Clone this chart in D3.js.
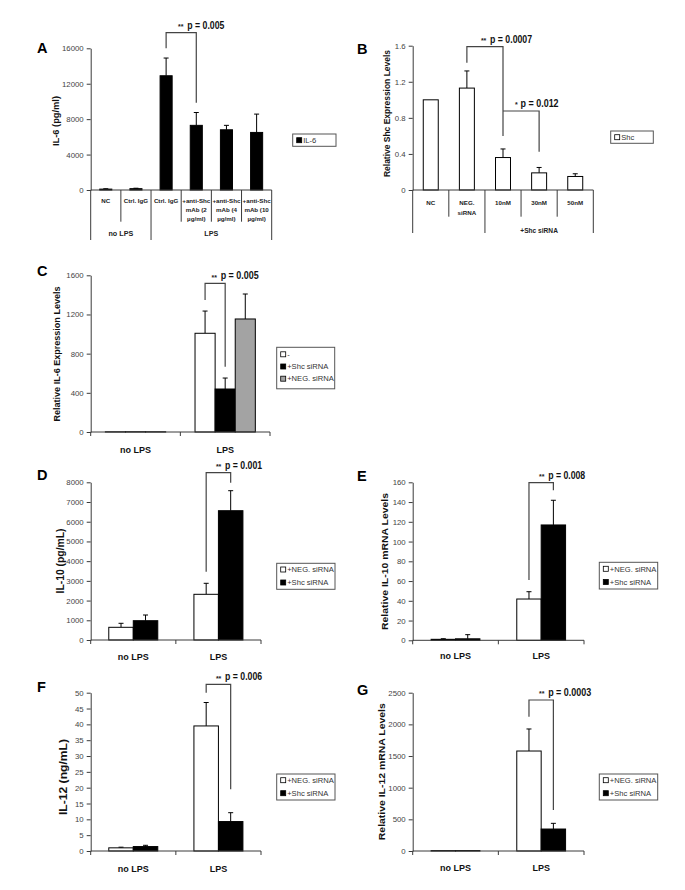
<!DOCTYPE html>
<html><head><meta charset="utf-8">
<script src="https://cdn.jsdelivr.net/npm/d3@7"></script>
<style>body{margin:0;background:#fff} svg{display:block}</style>
</head><body><svg id="c" width="685" height="890"></svg>
<script>
// ---------------- DATA ----------------
// Panel A
const aCategories = [["NC"],["Ctrl. IgG"],["Ctrl. IgG"],["+anti-Shc","mAb (2","µg/ml)"],["+anti-Shc","mAb (4","µg/ml)"],["+anti-Shc","mAb (10","µg/ml)"]];
const aGroups = ["no LPS","LPS"];
const aGroupSizes = [2,4];
const aValues = [100,150,12900,7300,6800,6500];
const aErrors = [40,50,2000,1450,500,2070];
const aTicks = [0,4000,8000,12000,16000];
const aLegend = ["IL-6"];
const aSig = [{from:2,to:3,top:17760,left:16000,right:9860,label:"p = 0.005",stars:"**"}];
// Panel B
const bCategories = [["NC"],["NEG.","siRNA"],["10nM"],["30nM"],["50nM"]];
const bGroups = ["","+Shc siRNA"];
const bGroupSizes = [2,3];
const bValues = [1.0,1.13,0.36,0.19,0.15];
const bErrors = [0,0.19,0.095,0.06,0.03];
const bTicks = [0,0.4,0.8,1.2,1.6];
const bLegend = ["Shc"];
const bSig = [{from:1,to:2,top:1.589,left:1.41,right:0.6,label:"p = 0.0007",stars:"**"},
              {from:2,to:3,top:0.876,left:0.876,right:0.425,label:"p = 0.012",stars:"*"}];
// Panel C
const cGroups = ["no LPS","LPS"];
const cSeries = ["-","+Shc siRNA","+NEG. siRNA"];
const cPlain = [2,1008];   const cPlainErr = [0,227];
const cShc = [2,439];      const cShcErr = [0,112];
const cNeg = [2,1154];     const cNegErr = [0,255];
const cTicks = [0,400,800,1200,1600];
const cSig = {group:1,from:0,to:1,top:1518,left:1348,right:667,label:"p = 0.005",stars:"**"};
// Panel D
const dGroups = ["no LPS","LPS"];
const dSeries = ["+NEG. siRNA","+Shc siRNA"];
const dNeg = [644,2318];  const dNegErr = [203,558];
const dShc = [979,6559];  const dShcErr = [289,1015];
const dTicks = [0,1000,2000,3000,4000,5000,6000,7000,8000];
const dSig = {group:1,from:0,to:1,top:8487,left:3465,right:7980,label:"p = 0.001",stars:"**"};
// Panel E
const eGroups = ["no LPS","LPS"];
const eSeries = ["+NEG. siRNA","+Shc siRNA"];
const eNeg = [1,41.8];   const eNegErr = [0.6,7.4];
const eShc = [1.5,116.8]; const eShcErr = [4.2,25];
const eTicks = [0,20,40,60,80,100,120,140,160];
const eSig = {group:1,from:0,to:1,top:159.6,left:61,right:152,label:"p = 0.008",stars:"**"};
// Panel F
const fGroups = ["no LPS","LPS"];
const fSeries = ["+NEG. siRNA","+Shc siRNA"];
const fNeg = [1.0,39.5]; const fNegErr = [0.2,7.4];
const fShc = [1.4,9.3];  const fShcErr = [0.4,2.8];
const fTicks = [0,5,10,15,20,25,30,35,40,45,50];
const fSig = {group:1,from:0,to:1,top:52.65,left:50,right:19.5,label:"p = 0.006",stars:"**"};
// Panel G
const gGroups = ["no LPS","LPS"];
const gSeries = ["+NEG. siRNA","+Shc siRNA"];
const gNeg = [6,1579]; const gNegErr = [0,348];
const gShc = [6,347];  const gShcErr = [0,90];
const gTicks = [0,500,1000,1500,2000,2500];
const gSig = {group:1,from:0,to:1,top:2385,left:2121,right:647,label:"p = 0.0003",stars:"**"};

// ---------------- DRAWING ----------------
const FONT = '"Liberation Sans", Arial, Helvetica, sans-serif';
const AXIS = "#3a3a3a";
const svg = d3.select("#c");
svg.append("rect").attr("width",685).attr("height",890).attr("fill","#fff");

function yAxis(g, y, x0, ticks){
  const ax = d3.axisLeft(y).tickValues(ticks).tickSizeInner(4).tickSizeOuter(0).tickPadding(3).tickFormat(d=>String(d));
  const a = g.append("g").attr("transform",`translate(${x0},0)`).call(ax);
  a.selectAll("path,line").attr("stroke",AXIS).attr("stroke-width",1);
  a.selectAll("text").attr("font-size",7.8).attr("fill","#444").attr("font-family",FONT);
}
function errBar(g, cx, yv, ye){
  g.append("line").attr("x1",cx).attr("x2",cx).attr("y1",yv).attr("y2",ye).attr("stroke","#000").attr("stroke-width",1);
  g.append("line").attr("x1",cx-2.5).attr("x2",cx+2.5).attr("y1",ye).attr("y2",ye).attr("stroke","#000").attr("stroke-width",1);
}
function sig(g, xL, xR, y, s, textDx, pLen){
  g.append("path").attr("d",`M${xL},${y(s.left)}V${y(s.top)}H${xR}V${y(s.right)}`)
    .attr("fill","none").attr("stroke","#444").attr("stroke-width",1.2);
  const tx = xL + textDx, ty = y(s.top) - 4;
  g.append("text").attr("x",tx).attr("y",ty+0.5).attr("font-family",FONT).attr("font-weight","bold")
    .attr("font-size",7).attr("fill","#222").text(s.stars);
  const sw = s.stars.length*3.6 + 2;
  g.append("text").attr("x",tx+sw).attr("y",ty).attr("font-family",FONT).attr("font-weight","bold")
    .attr("font-size",10).attr("fill","#111").attr("textLength",pLen).attr("lengthAdjust","spacingAndGlyphs").text(s.label);
}
function yLabel(cx, cy, txt, size, len){
  svg.append("text").attr("transform",`translate(${cx},${cy}) rotate(-90)`).attr("text-anchor","middle")
    .attr("dominant-baseline","central").attr("font-family",FONT).attr("font-weight","bold")
    .attr("font-size",size).attr("fill","#111").attr("textLength",len).attr("lengthAdjust","spacingAndGlyphs").text(txt);
}
function letter(x, y, t){
  svg.append("text").attr("x",x).attr("y",y).attr("font-family",FONT).attr("font-weight","bold")
    .attr("font-size",14.5).attr("fill","#000").text(t);
}
function legend(box, rows, entries, fills){
  const g = svg.append("g");
  g.append("rect").attr("x",box[0]).attr("y",box[1]).attr("width",box[2]).attr("height",box[3])
    .attr("fill","#fff").attr("stroke","#555").attr("stroke-width",1);
  entries.forEach((e,i)=>{
    const cy = rows[i];
    g.append("rect").attr("x",box[0]+4).attr("y",cy-2.5).attr("width",5).attr("height",5)
      .attr("fill",fills[i]).attr("stroke","#000").attr("stroke-width",0.8);
    g.append("text").attr("x",box[0]+10.5).attr("y",cy+2.7).attr("font-family",FONT).attr("font-size",7.6)
      .attr("fill","#333").text(e);
  });
}

// single series, multi-level category axis (A, B)
function panelMulti(L, cats, groups, sizes, values, errors, ticks, fill, sigs){
  const g = svg.append("g");
  const y = d3.scaleLinear().domain([0, ticks[ticks.length-1]]).range([L.yBase, L.yTop]);
  const x = d3.scaleBand().domain(d3.range(cats.length)).range([L.x0, L.x1]).padding(0);
  const bw = x.bandwidth()*L.barFrac;
  values.forEach((v,i)=>{
    const cx = x(i)+x.bandwidth()/2;
    if (errors[i]>0) errBar(g, cx, y(v), y(v+errors[i]));
    g.append("rect").attr("x",cx-bw/2).attr("y",y(v)).attr("width",bw).attr("height",y(0)-y(v))
      .attr("fill",fill).attr("stroke","#000").attr("stroke-width",1);
  });
  yAxis(g, y, L.x0, ticks);
  g.append("line").attr("x1",L.x0).attr("x2",L.x1).attr("y1",L.yBase).attr("y2",L.yBase).attr("stroke",AXIS);
  const bounds = [0]; sizes.forEach(s=>bounds.push(bounds[bounds.length-1]+s));
  for (let i=0;i<=cats.length;i++){
    const xx = i<cats.length ? x(i) : L.x1;
    const long = bounds.includes(i);
    g.append("line").attr("x1",xx).attr("x2",xx).attr("y1",L.yBase).attr("y2",long?L.sepLong:L.sepShort).attr("stroke",AXIS);
  }
  cats.forEach((lines,i)=>{
    const cx = x(i)+x.bandwidth()/2;
    lines.forEach((t,j)=>{
      g.append("text").attr("x",cx).attr("y",L.catY+j*L.lineH).attr("text-anchor","middle")
        .attr("font-family",FONT).attr("font-weight","bold").attr("font-size",L.catFont).attr("fill","#222").text(t);
    });
  });
  groups.forEach((t,k)=>{
    const a = x(bounds[k]), b = bounds[k+1]<cats.length ? x(bounds[k+1]) : L.x1;
    g.append("text").attr("x",(a+b)/2).attr("y",L.groupY).attr("text-anchor","middle")
      .attr("font-family",FONT).attr("font-weight","bold").attr("font-size",L.groupFont).attr("fill","#222").text(t);
  });
  sigs.forEach((s,k)=>{
    sig(g, x(s.from)+x.bandwidth()/2, x(s.to)+x.bandwidth()/2, y, s, L.sigDx[k], L.sigLen[k]);
  });
}

// grouped series (C - G)
function panelGrouped(L, groups, seriesVals, seriesErrs, fills, ticks, s){
  const g = svg.append("g");
  const y = d3.scaleLinear().domain([0, ticks[ticks.length-1]]).range([L.yBase, L.yTop]);
  const xg = d3.scaleBand().domain(groups).range([L.x0, L.x1]).padding(0);
  const n = seriesVals.length;
  const clusterW = L.barW*n;
  const xs = d3.scaleBand().domain(d3.range(n)).range([0, clusterW]).padding(0);
  const barX = (gi, si) => xg(groups[gi]) + (xg.bandwidth()-clusterW)/2 + xs(si);
  seriesVals.forEach((vals,si)=>{
    vals.forEach((v,gi)=>{
      const bx = barX(gi,si), cx = bx + xs.bandwidth()/2;
      const e = seriesErrs[si][gi];
      if (e>0) errBar(g, cx, y(v), y(v+e));
      g.append("rect").attr("x",bx).attr("y",y(v)).attr("width",xs.bandwidth()).attr("height",y(0)-y(v))
        .attr("fill",fills[si]).attr("stroke","#000").attr("stroke-width",1);
    });
  });
  yAxis(g, y, L.x0, ticks);
  g.append("line").attr("x1",L.x0).attr("x2",L.x1).attr("y1",L.yBase).attr("y2",L.yBase).attr("stroke",AXIS);
  [L.x0, xg(groups[1]), L.x1].forEach(xx=>{
    g.append("line").attr("x1",xx).attr("x2",xx).attr("y1",L.yBase).attr("y2",L.yBase+4).attr("stroke",AXIS);
  });
  groups.forEach(t=>{
    g.append("text").attr("x",xg(t)+xg.bandwidth()/2).attr("y",L.groupY).attr("text-anchor","middle")
      .attr("font-family",FONT).attr("font-weight","bold").attr("font-size",9).attr("fill","#111").text(t);
  });
  const xL = barX(s.group,s.from)+xs.bandwidth()/2, xR = barX(s.group,s.to)+xs.bandwidth()/2;
  sig(g, xL, xR, y, s, L.sigDx, L.sigLen);
}

// ---- Panel A
panelMulti({x0:90.7,x1:271.7,yBase:190,yTop:48.3,barFrac:0.4,sepShort:221.7,sepLong:240,
  catY:203,lineH:9,catFont:6.2,groupY:235.5,groupFont:7.2,sigDx:[12],sigLen:[37]},
  aCategories,aGroups,aGroupSizes,aValues,aErrors,aTicks,"#000",aSig);
letter(37,53,"A");
yLabel(56,121,"IL-6 (pg/ml)",9,50);
legend([292.7,134,43.3,12.3],[140.2],aLegend,["#000"]);

// ---- Panel B
panelMulti({x0:412.7,x1:593.3,yBase:190,yTop:45.7,barFrac:0.415,sepShort:216.7,sepLong:233,
  catY:204.5,lineH:10,catFont:6.2,groupY:232.5,groupFont:6.6,sigDx:[14,12],sigLen:[42,38]},
  bCategories,bGroups,bGroupSizes,bValues,bErrors,bTicks,"#fff",bSig);
letter(357,53.5,"B");
yLabel(386.7,113.5,"Relative Shc Expression Levels",8.6,127);
legend([610.7,131,42.6,12.3],[137.2],bLegend,["#fff"]);

// ---- Panel C
panelGrouped({x0:90.7,x1:270,yBase:432,yTop:275.3,barW:20.1,groupY:453,sigDx:6.4,sigLen:38},
  cGroups,[cPlain,cShc,cNeg],[cPlainErr,cShcErr,cNegErr],["#fff","#000","#a3a3a3"],cTicks,cSig);
letter(37,276,"C");
yLabel(57,354,"Relative IL-6 Expression Levels",9,135);
legend([276.7,347.3,58,41.5],[354.3,366.5,378.7],cSeries,["#fff","#000","#a3a3a3"]);

// ---- Panel D
panelGrouped({x0:90.7,x1:261,yBase:640,yTop:482.3,barW:24.5,groupY:659.8,sigDx:9.7,sigLen:37},
  dGroups,[dNeg,dShc],[dNegErr,dShcErr],["#fff","#000"],dTicks,dSig);
letter(37,480,"D");
yLabel(60,561,"IL-10 (pg/mL)",11,65);
legend([276.7,563.3,58.3,26],[569.5,582.5],dSeries,["#fff","#000"]);

// ---- Panel E
panelGrouped({x0:412.7,x1:584,yBase:640.3,yTop:482.3,barW:24.4,groupY:659.3,sigDx:10,sigLen:37},
  eGroups,[eNeg,eShc],[eNegErr,eShcErr],["#fff","#000"],eTicks,eSig);
letter(357,481,"E");
yLabel(384,561.5,"Relative IL-10 mRNA Levels",9.6,137);
legend([599.3,562.3,58.4,26.7],[568.8,582],eSeries,["#fff","#000"]);

// ---- Panel F
panelGrouped({x0:90.7,x1:261,yBase:851,yTop:692.7,barW:24.5,groupY:871.5,sigDx:9.7,sigLen:37},
  fGroups,[fNeg,fShc],[fNegErr,fShcErr],["#fff","#000"],fTicks,fSig);
letter(37,692,"F");
yLabel(63,777,"IL-12 (ng/mL)",11,76);
legend([276.7,774,58.3,26],[780.2,793.2],fSeries,["#fff","#000"]);

// ---- Panel G
panelGrouped({x0:412.7,x1:584,yBase:851,yTop:692.7,barW:24.4,groupY:870.5,sigDx:10,sigLen:43},
  gGroups,[gNeg,gShc],[gNegErr,gShcErr],["#fff","#000"],gTicks,gSig);
letter(357,695,"G");
yLabel(381.7,771.7,"Relative IL-12 mRNA Levels",9.6,137);
legend([599.3,774,58.4,26],[780.2,793.2],gSeries,["#fff","#000"]);
</script></body></html>
